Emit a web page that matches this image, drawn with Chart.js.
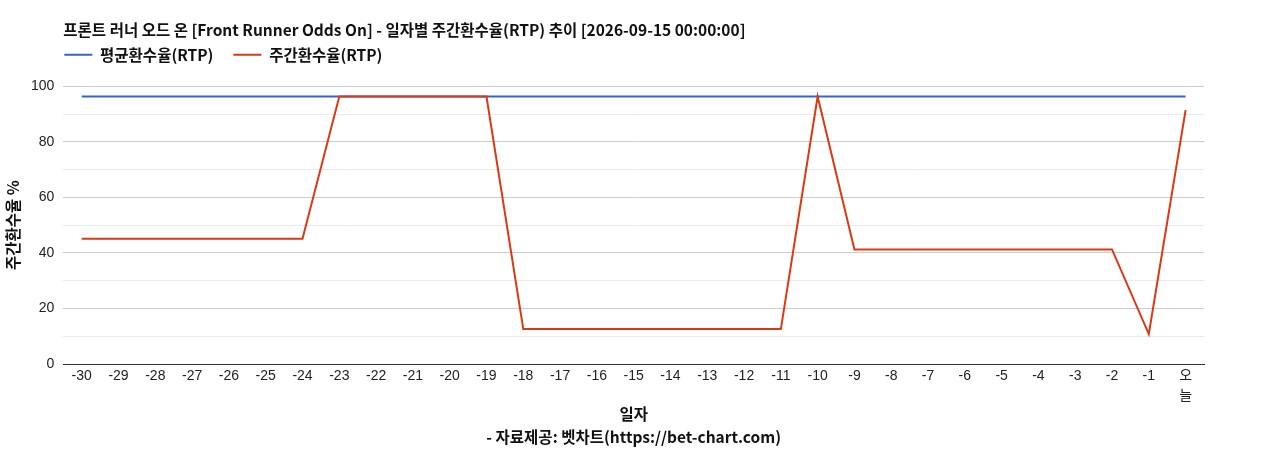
<!DOCTYPE html>
<html><head><meta charset="utf-8">
<script src="https://cdn.jsdelivr.net/npm/chart.js@4.4.1/dist/chart.umd.min.js"></script>
<style>html,body{margin:0;padding:0;background:#fff}#wrap{width:1268px;height:450px}</style>
</head><body><div id="wrap"><canvas id="c"></canvas></div>
<script>
const categories = ['-30','-29','-28','-27','-26','-25','-24','-23','-22','-21','-20','-19','-18','-17','-16','-15','-14','-13','-12','-11','-10','-9','-8','-7','-6','-5','-4','-3','-2','-1',['오','늘']];
const avgRtp = [96.4,96.4,96.4,96.4,96.4,96.4,96.4,96.4,96.4,96.4,96.4,96.4,96.4,96.4,96.4,96.4,96.4,96.4,96.4,96.4,96.4,96.4,96.4,96.4,96.4,96.4,96.4,96.4,96.4,96.4,96.4];
const weeklyRtp = [45.1,45.1,45.1,45.1,45.1,45.1,45.1,96.4,96.4,96.4,96.4,96.4,12.6,12.6,12.6,12.6,12.6,12.6,12.6,12.6,96.4,41.3,41.3,41.3,41.3,41.3,41.3,41.3,41.3,10.8,91.5];
const seriesNames = ['평균환수율(RTP)','주간환수율(RTP)'];
const titleText = '프론트 러너 오드 온 [Front Runner Odds On] - 일자별 주간환수율(RTP) 추이 [2026-09-15 00:00:00]';
const sourceText = '- 자료제공: 벳차트(https://bet-chart.com)';
const TICKFONT = "'Liberation Sans', Arial, 'Noto Sans CJK KR', sans-serif";
const TEXTFONT = "'Noto Sans CJK KR', 'Noto Sans', sans-serif";

const legendTweak = {
  id: 'legendTweak',
  beforeInit(chart) {
    const lg = chart.legend;
    if (lg && !lg._tweaked) {
      const f = lg.fit;
      lg.fit = function () { f.call(this); this.height += 2; };
      lg._tweaked = true;
    }
  },
  afterLayout(chart) {
    const lg = chart.legend;
    if (lg) { lg.left -= 19; lg.right -= 19; lg.top -= 12; lg.bottom -= 12; }
  }
};

new Chart(document.getElementById('c'), {
  type: 'line',
  data: {
    labels: categories,
    datasets: [
      {label: seriesNames[0], data: avgRtp, borderColor: '#3366cc', backgroundColor: '#3366cc', borderWidth: 2, pointRadius: 0, tension: 0, order: 2},
      {label: seriesNames[1], data: weeklyRtp, borderColor: '#dc3912', backgroundColor: '#dc3912', borderWidth: 2, pointRadius: 0, tension: 0, order: 1}
    ]
  },
  plugins: [legendTweak],
  options: {
    responsive: true, maintainAspectRatio: false, animation: false,
    layout: {padding: {left: 0, right: 64, top: 10, bottom: 4}},
    plugins: {
      title: {display: true, text: titleText, align: 'start', fullSize: false, color: '#111',
        font: {family: TEXTFONT, size: 15.5, weight: 'bold', lineHeight: 1.16}, padding: {top: 11, bottom: 0}},
      subtitle: {display: true, text: sourceText, position: 'bottom', fullSize: false, color: '#111',
        font: {family: TEXTFONT, size: 15.5, weight: 'bold', lineHeight: 1.16}, padding: {top: 5, bottom: 0}},
      legend: {align: 'start', fullSize: false,
        labels: {boxWidth: 28, boxHeight: 0, padding: 20, color: '#111',
          sort: (a, b) => a.datasetIndex - b.datasetIndex,
          font: {family: TEXTFONT, size: 15.5, weight: 'bold'}}},
      tooltip: {enabled: false}
    },
    scales: {
      x: {offset: true,
        grid: {display: false, drawTicks: false},
        border: {display: true, color: '#333', width: 1},
        ticks: {color: '#222', font: {family: TICKFONT, size: 14, lineHeight: 1.43}, maxRotation: 0, autoSkip: false, padding: 2},
        title: {display: true, text: '일자', color: '#111', font: {family: TEXTFONT, size: 15.5, weight: 'bold', lineHeight: 1.16}, padding: {top: -3, bottom: 0}}
      },
      y: {min: 0, max: 100,
        border: {display: false},
        grid: {color: ctx => (ctx.tick.value === 0 ? '#333' : (ctx.tick.value % 20 === 0 ? '#cccccc' : '#ebebeb')), drawTicks: false},
        ticks: {stepSize: 10, color: '#222', font: {family: TICKFONT, size: 14}, padding: 9,
          callback: v => (v % 20 === 0 ? v : '')},
        title: {display: true, text: '주간환수율 %', color: '#111', font: {family: TEXTFONT, size: 15.5, weight: 'bold', lineHeight: 1.16}, padding: {top: 4, bottom: 0}}
      }
    }
  }
});
</script></body></html>
